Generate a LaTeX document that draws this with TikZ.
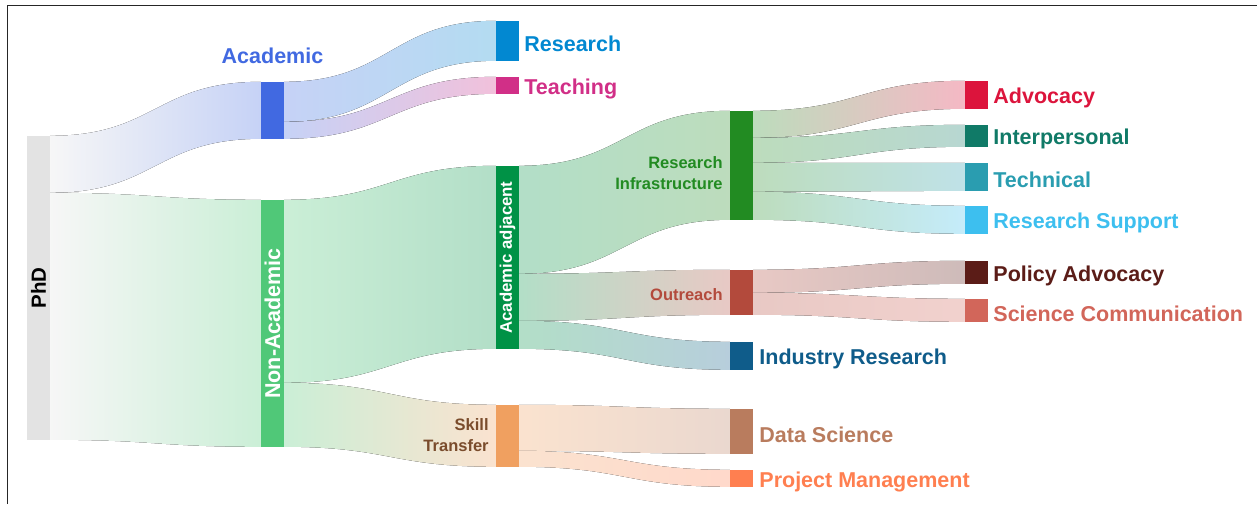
\documentclass[tikz,border=0pt]{standalone}
\usepackage{fontspec}
\setmainfont{Liberation Sans}
\usetikzlibrary{positioning,backgrounds}

\definecolor{cPhD}{HTML}{E3E3E3}
\definecolor{cAcad}{HTML}{4169E1}
\definecolor{cNonAcad}{HTML}{50C878}
\definecolor{cResearch}{HTML}{0288D1}
\definecolor{cTeaching}{HTML}{D12F87}
\definecolor{cAdjacent}{HTML}{009246}
\definecolor{cSkill}{HTML}{F0A060}
\definecolor{cSkillText}{HTML}{7A4C2C}
\definecolor{cInfra}{HTML}{228B22}
\definecolor{cOutreach}{HTML}{B34A3C}
\definecolor{cIndustry}{HTML}{0F5C8A}
\definecolor{cDataSci}{HTML}{B97C5E}
\definecolor{cPM}{HTML}{FF7F50}
\definecolor{cAdvocacy}{HTML}{DC143C}
\definecolor{cInterp}{HTML}{107A67}
\definecolor{cTechnical}{HTML}{2A9DB0}
\definecolor{cSupport}{HTML}{3DBFEF}
\definecolor{cPolicy}{HTML}{5B1C17}
\definecolor{cSciComm}{HTML}{D2665A}

\tikzset{
    bar/.style = {
        rectangle,
        inner sep=0pt,
        minimum width=23pt,
        },
    big label/.style = {
        inner sep=0pt,
        yshift=-3pt,
        font=\fontsize{21.5}{24}\selectfont\bfseries,
        },
    small label/.style = {
        inner sep=0pt,
        align=right,
        font=\fontsize{16.5}{21}\selectfont\bfseries,
        },
    inside/.style = {
        rotate=90,
        inner sep=0pt,
        font=\bfseries,
        },
}

% flow band: source, top, bottom, target, top, bottom, source colour, target colour
\newcommand{\flow}[8]{%
    \fill[left color=#7!30, right color=#8!30]
        ([yshift=-#2pt]#1.north east) .. controls +(105,0) and +(-105,0) .. ([yshift=-#5pt]#4.north west)
        -- ([yshift=-#6pt]#4.north west) .. controls +(-105,0) and +(105,0) .. ([yshift=-#3pt]#1.north east)
        -- cycle;}

\begin{document}
\begin{tikzpicture}[x=1pt,y=-1pt]
    \useasboundingbox (0,0) rectangle (1257,504);
    \draw[line width=1.5pt, black!85] (7.5,504) |- (1257,5.5);

    % columns
    \node[bar, fill=cPhD, minimum height=304pt] (phd) at (38.5,288) {};
    \node[bar, fill=cAcad, minimum height=57pt] (acad) at (272.5,110.5) {};
    \node[bar, fill=cNonAcad, minimum height=247pt] (nonacad) at (272.5,323.5) {};
    \node[bar, fill=cResearch, minimum height=40pt] (research) at (507.5,41) {};
    \node[bar, fill=cTeaching, minimum height=17pt] (teaching) at (507.5,85.5) {};
    \node[bar, fill=cAdjacent, minimum height=183pt] (adjacent) at (507.5,257.5) {};
    \node[bar, fill=cSkill, minimum height=62pt] (skill) at (507.5,436) {};
    \node[bar, fill=cInfra, minimum height=109pt] (infra) at (741.5,165.5) {};
    \node[bar, fill=cOutreach, minimum height=45pt] (outreach) at (741.5,292.5) {};
    \node[bar, fill=cIndustry, minimum height=28pt] (industry) at (741.5,356) {};
    \node[bar, fill=cDataSci, minimum height=45pt] (datasci) at (741.5,431.5) {};
    \node[bar, fill=cPM, minimum height=17pt] (pm) at (741.5,478.5) {};
    \node[bar, fill=cAdvocacy, minimum height=28pt] (advocacy) at (976.5,95) {};
    \node[bar, fill=cInterp, minimum height=22pt] (interp) at (976.5,136) {};
    \node[bar, fill=cTechnical, minimum height=28pt] (technical) at (976.5,177) {};
    \node[bar, fill=cSupport, minimum height=28pt] (support) at (976.5,220) {};
    \node[bar, fill=cPolicy, minimum height=23pt] (policy) at (976.5,272.5) {};
    \node[bar, fill=cSciComm, minimum height=23pt] (scicomm) at (976.5,310.5) {};

    % flows
    \begin{scope}[on background layer]
        \flow{phd}{0}{57}{acad}{0}{57}{cPhD}{cAcad}
        \flow{phd}{57}{304}{nonacad}{0}{247}{cPhD}{cNonAcad}
        \flow{acad}{0}{40}{research}{0}{40}{cAcad}{cResearch}
        \flow{acad}{40}{57}{teaching}{0}{17}{cAcad}{cTeaching}
        \flow{nonacad}{0}{183}{adjacent}{0}{183}{cNonAcad}{cAdjacent}
        \flow{nonacad}{183}{247}{skill}{0}{62}{cNonAcad}{cSkill}
        \flow{adjacent}{0}{108}{infra}{0}{109}{cAdjacent}{cInfra}
        \flow{adjacent}{108}{155}{outreach}{0}{45}{cAdjacent}{cOutreach}
        \flow{adjacent}{155}{183}{industry}{0}{28}{cAdjacent}{cIndustry}
        \flow{skill}{0}{46}{datasci}{0}{45}{cSkill}{cDataSci}
        \flow{skill}{46}{62}{pm}{0}{17}{cSkill}{cPM}
        \flow{infra}{0}{27}{advocacy}{0}{28}{cInfra}{cAdvocacy}
        \flow{infra}{27}{52}{interp}{0}{22}{cInfra}{cInterp}
        \flow{infra}{52}{81}{technical}{0}{28}{cInfra}{cTechnical}
        \flow{infra}{81}{109}{support}{0}{28}{cInfra}{cSupport}
        \flow{outreach}{0}{23}{policy}{0}{23}{cOutreach}{cPolicy}
        \flow{outreach}{23}{45}{scicomm}{0}{23}{cOutreach}{cSciComm}
    \end{scope}

    % labels inside the bars
    \node[inside, font=\fontsize{20.5}{24}\selectfont\bfseries, text=black] (phd text) at (phd) {PhD};
    \node[inside, font=\fontsize{21.5}{24}\selectfont\bfseries, text=white] (nonacad text) at (nonacad) {Non-Academic};
    \node[inside, font=\fontsize{16.8}{20}\selectfont\bfseries, text=white] (adjacent text) at (adjacent) {Academic adjacent};

    % labels beside the bars
    \node[big label, text=cAcad, above=21pt of acad] (acad text) {Academic};
    \node[big label, text=cResearch, right=5pt of research] (research text) {Research};
    \node[big label, text=cTeaching, right=5pt of teaching] (teaching text) {Teaching};
    \node[small label, text=cInfra, left=7pt of infra, yshift=-8pt] (infra text) {Research\\Infrastructure};
    \node[small label, text=cOutreach, left=7pt of outreach, yshift=-2pt] (outreach text) {Outreach};
    \node[small label, text=cSkillText, left=7pt of skill, yshift=1pt] (skill text) {Skill\\Transfer};
    \node[big label, text=cIndustry, right=6pt of industry] (industry text) {Industry Research};
    \node[big label, text=cDataSci, right=6pt of datasci] (datasci text) {Data Science};
    \node[big label, text=cPM, right=6pt of pm] (pm text) {Project Management};
    \node[big label, text=cAdvocacy, right=5pt of advocacy] (advocacy text) {Advocacy};
    \node[big label, text=cInterp, right=5pt of interp] (interp text) {Interpersonal};
    \node[big label, text=cTechnical, right=5pt of technical] (technical text) {Technical};
    \node[big label, text=cSupport, right=5pt of support] (support text) {Research Support};
    \node[big label, text=cPolicy, right=5pt of policy] (policy text) {Policy Advocacy};
    \node[big label, text=cSciComm, right=5pt of scicomm] (scicomm text) {Science Communication};
\end{tikzpicture}
\end{document}
